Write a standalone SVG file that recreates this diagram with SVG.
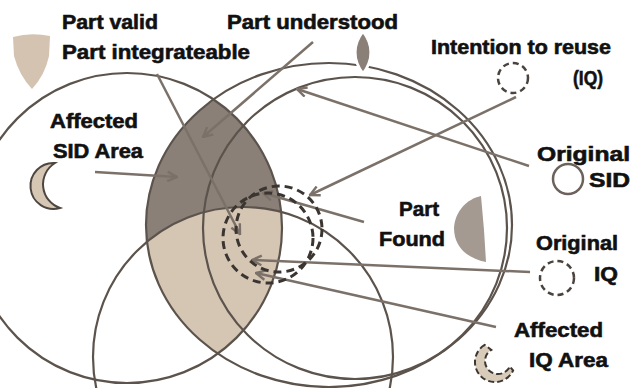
<svg xmlns="http://www.w3.org/2000/svg" width="632" height="388" viewBox="0 0 632 388">
<defs>
<style>
.lbl{font-family:"Liberation Sans",Arial,sans-serif;font-weight:bold;font-size:20px;fill:#111;stroke:#111;stroke-width:0.6}
.big{fill:none;stroke:#5b534c;stroke-width:2.2}
.dash{fill:none;stroke:#3b3531;stroke-width:3;stroke-dasharray:8 5}
.sdash{fill:#fff;stroke:#4a433e;stroke-width:2.5;stroke-dasharray:6 4}
.arr{fill:none;stroke:#7b7169;stroke-width:2.5;marker-end:url(#ah)}
</style>
<marker id="ah" viewBox="0 0 10 10" refX="9" refY="5" markerWidth="12" markerHeight="12" markerUnits="userSpaceOnUse" orient="auto">
<path d="M1,1 L9,5 L1,9" fill="none" stroke="#7b7169" stroke-width="2"/>
</marker>
<clipPath id="clipR"><ellipse cx="329" cy="225" rx="183" ry="162"/></clipPath>
<clipPath id="clipL"><circle cx="127" cy="228" r="155"/></clipPath>
</defs>
<rect width="632" height="388" fill="#fff"/>

<g id="regions">
<g clip-path="url(#clipR)"><circle cx="127" cy="228" r="155" fill="#8a8078"/></g>
<g clip-path="url(#clipR)"><g clip-path="url(#clipL)"><circle cx="243" cy="357" r="150" fill="#d5c6b4"/></g></g>
</g>

<g id="circles">
<circle id="sid-affected" class="big" cx="127" cy="228" r="155"/>
<ellipse id="sid-original" class="big" cx="329" cy="225" rx="183" ry="162"/>
<ellipse id="sid-inner" class="big" cx="355" cy="228" rx="152" ry="151"/>
<circle id="iq-bottom" class="big" cx="243" cy="357" r="150"/>
</g>

<g id="connectors">
<line class="arr" x1="157" y1="74" x2="240" y2="234"/>
<line class="arr" x1="313" y1="42" x2="203" y2="137"/>
<line class="arr" x1="516" y1="97" x2="310" y2="195"/>
<line class="arr" x1="529" y1="166" x2="297" y2="89"/>
<line class="arr" x1="95" y1="172" x2="177" y2="177"/>
<line class="arr" x1="364" y1="222" x2="263" y2="193"/>
<line class="arr" x1="530" y1="272" x2="252" y2="260"/>
<line class="arr" x1="496" y1="327" x2="256" y2="273"/>
</g>

<g id="iq-circles">
<circle class="dash" cx="279" cy="229" r="43"/>
<circle class="dash" cx="268" cy="238" r="45"/>
</g>

<g id="legend-valid">
<path d="M13,37 Q31,32 50,36 L49,56 Q45,75 32,89 Q19,75 14,56 Z" fill="#d3c3b0"/>
<text class="lbl" x="62" y="29" textLength="96" lengthAdjust="spacingAndGlyphs">Part valid</text>
<text class="lbl" x="62" y="59" textLength="188" lengthAdjust="spacingAndGlyphs">Part integrateable</text>
</g>

<g id="legend-understood">
<path d="M363,31 Q379,52 363,74 Q347,52 363,31 Z" fill="#8a8078" stroke="#fff" stroke-width="3"/>
<text class="lbl" x="227" y="29" textLength="171" lengthAdjust="spacingAndGlyphs">Part understood</text>
</g>

<g id="legend-intention">
<circle class="sdash" cx="513" cy="78" r="15"/>
<text class="lbl" x="431" y="54" textLength="180" lengthAdjust="spacingAndGlyphs">Intention to reuse</text>
<text class="lbl" x="573" y="85" textLength="30" lengthAdjust="spacingAndGlyphs">(IQ)</text>
</g>

<g id="legend-original-sid">
<circle cx="568" cy="179" r="15" fill="#fff" stroke="#6b625b" stroke-width="2.5"/>
<text class="lbl" x="537" y="161" textLength="93" lengthAdjust="spacingAndGlyphs">Original</text>
<text class="lbl" x="589" y="187" textLength="41" lengthAdjust="spacingAndGlyphs">SID</text>
</g>

<g id="legend-found">
<path d="M481,196 C467,199 455,211 454,228 C454,245 465,258 486,262 L484,230 Z" fill="#a49a91"/>
<text class="lbl" x="399" y="216" textLength="40" lengthAdjust="spacingAndGlyphs">Part</text>
<text class="lbl" x="379" y="246" textLength="66" lengthAdjust="spacingAndGlyphs">Found</text>
</g>

<g id="legend-original-iq">
<circle class="sdash" cx="557" cy="278" r="17"/>
<text class="lbl" x="536" y="250" textLength="82" lengthAdjust="spacingAndGlyphs">Original</text>
<text class="lbl" x="594" y="281" textLength="24" lengthAdjust="spacingAndGlyphs">IQ</text>
</g>

<g id="legend-affected-iq">
<path d="M484.7,344.9 A20,20 0 1 0 513.1,370.5 L509.8,366.5 A13,13 0 1 1 491.3,349.9 Z" fill="#d9cbb9" stroke="#3d3631" stroke-width="2" stroke-dasharray="6 3"/>
<text class="lbl" x="514" y="337" textLength="89" lengthAdjust="spacingAndGlyphs">Affected</text>
<text class="lbl" x="529" y="367" textLength="79" lengthAdjust="spacingAndGlyphs">IQ Area</text>
</g>

<g id="legend-affected-sid">
<path d="M55,163 A23,23 0 1 0 60,208 A25,25 0 0 1 55,163 Z" fill="#d6c7b5" stroke="#4d4540" stroke-width="2"/>
<text class="lbl" x="50" y="128" textLength="88" lengthAdjust="spacingAndGlyphs">Affected</text>
<text class="lbl" x="53" y="158" textLength="90" lengthAdjust="spacingAndGlyphs">SID Area</text>
</g>
</svg>
